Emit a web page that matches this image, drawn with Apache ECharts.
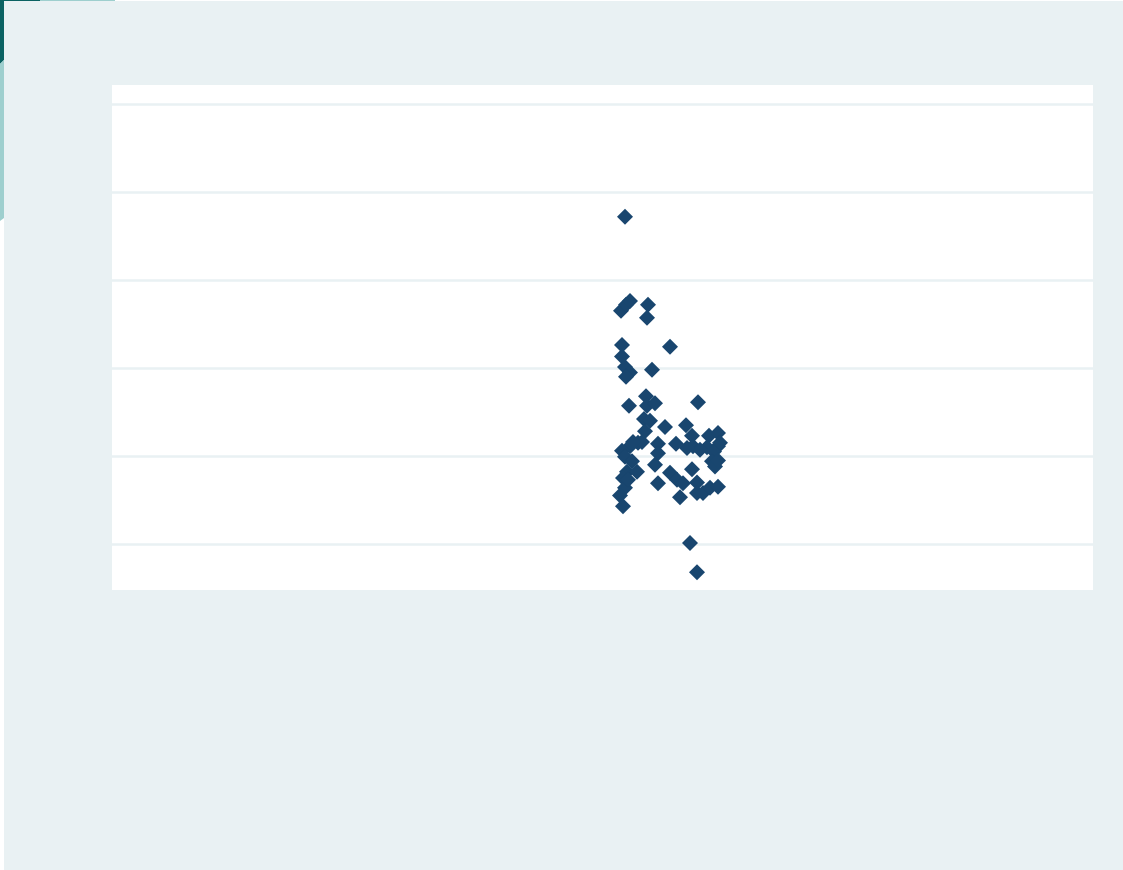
<!DOCTYPE html>
<html>
<head>
<meta charset="utf-8">
<script src="https://cdn.jsdelivr.net/npm/echarts@6/dist/echarts.min.js"></script>
<style>
  html, body { margin: 0; padding: 0; background: #fff; }
  #main { width: 1123px; height: 870px; }
</style>
</head>
<body>
<div id="main"></div>
<script>
// values (x is the jitter position, y the value)
var xs = [51.3, 50.9, 51.4, 51.8, 53.6, 53.5, 51.0, 55.8, 51.0, 51.3,
          51.8, 51.4, 54.0, 51.7, 53.4, 53.5, 54.3, 58.6, 53.2, 53.8,
          55.3, 57.4, 53.3, 58.0, 59.7, 60.6, 52.6, 51.8, 54.6, 56.4,
          58.1, 59.5, 60.6, 51.0, 54.6, 58.8, 60.2, 51.3, 52.0, 54.3,
          60.0, 60.3, 51.5, 52.5, 55.8, 58.0, 51.1, 54.6, 56.5, 57.1,
          58.5, 51.3, 50.8, 51.1, 56.8, 58.5, 59.1, 59.8, 60.6, 57.8,
          58.5, 57.5, 60.6, 51.6, 53.0, 52.1, 60.8];
var ys = [37.2, 26.5, 27.2, 27.6, 27.2, 25.7, 22.6, 22.4, 21.3, 20.1,
          19.5, 19.0, 19.8, 15.7, 16.8, 15.7, 16.0, 16.1, 14.2, 14.0,
          13.3, 13.5, 12.8, 12.3, 12.3, 12.6, 11.5, 11.1, 11.4, 11.4,
          11.1, 11.0, 11.1, 10.6, 10.3, 10.7, 10.5, 9.9, 9.4, 9.0,
          9.4, 8.8, 8.2, 8.2, 8.1, 8.5, 7.5, 6.9, 7.3, 6.9,
          7.0, 6.4, 5.5, 4.3, 5.3, 5.8, 5.8, 6.4, 6.5, 0.1,
          -3.2, 10.9, 9.5, 7.3, 11.6, 11.6, 11.5];
var yTicks = [0, 10, 20, 30, 40, 50];

var points = [];
for (var i = 0; i < xs.length; i++) {
    points.push([xs[i], ys[i]]);
}

var mychart = echarts.init(document.getElementById('main'));
var option = {
    backgroundColor: '#e9f1f3',
    animation: false,
    graphic: [
        { type: 'rect', shape: { x: 0, y: 0, width: 4, height: 870 }, style: { fill: '#ffffff' } },
        { type: 'rect', shape: { x: 0, y: 0, width: 1123, height: 1 }, style: { fill: '#ffffff' } },
        { type: 'polygon', shape: { points: [[0, 0], [4, 0], [4, 60], [0, 64]] }, style: { fill: '#0b6262' } },
        { type: 'polygon', shape: { points: [[0, 64], [4, 60], [4, 218], [0, 221]] }, style: { fill: '#9ecfce' } },
        { type: 'rect', shape: { x: 4, y: 0, width: 36, height: 1 }, style: { fill: '#0b6262' } },
        { type: 'rect', shape: { x: 40, y: 0, width: 75, height: 1 }, style: { fill: '#9ecfce' } }
    ],
    grid: {
        left: 112,
        top: 85,
        width: 981,
        height: 505,
        show: true,
        backgroundColor: '#ffffff',
        borderWidth: 0
    },
    xAxis: {
        type: 'value',
        min: 0,
        max: 98.1,
        show: false
    },
    yAxis: {
        type: 'value',
        min: -5.23,
        max: 52.16,
        axisLine: { show: false },
        axisTick: { show: false },
        axisLabel: { show: false },
        splitLine: { show: false }
    },
    series: [
        {
            // horizontal grid lines, kept under the markers
            type: 'scatter',
            data: [],
            z: 1,
            silent: true,
            markLine: {
                z: 1,
                silent: true,
                symbol: ['none', 'none'],
                label: { show: false },
                lineStyle: { color: '#e9f1f3', width: 2.5, type: 'solid' },
                data: yTicks.map(function (v) { return { yAxis: v }; })
            }
        },
        {
            type: 'scatter',
            z: 3,
            symbol: 'diamond',
            symbolSize: 16,
            itemStyle: { color: '#19466f', opacity: 1 },
            data: points
        }
    ]
};
mychart.setOption(option);
</script>
</body>
</html>
